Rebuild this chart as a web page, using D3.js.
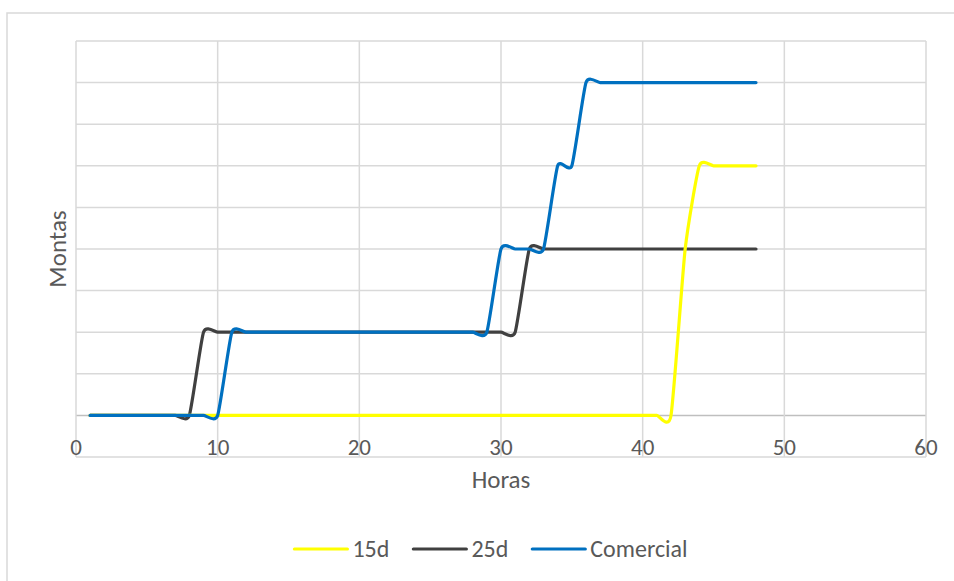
<!DOCTYPE html>
<html>
<head>
<meta charset="utf-8">
<script src="https://cdn.jsdelivr.net/npm/d3@7"></script>
<style>
  html, body { margin: 0; padding: 0; background: #fff; }
  svg { display: block; }
  text { font-family: Carlito, Calibri, Lato, sans-serif; fill: #595959; }
</style>
</head>
<body>
<div id="chart"></div>
<script>
// hours (x values)
const hours = [1, 2, 3, 4, 5, 6, 7, 8, 9, 10, 11, 12, 13, 14, 15, 16, 17, 18, 19, 20, 21, 22, 23, 24,
  25, 26, 27, 28, 29, 30, 31, 32, 33, 34, 35, 36, 37, 38, 39, 40, 41, 42, 43, 44, 45, 46, 47, 48];

// montas per hour
const d15 = [0, 0, 0, 0, 0, 0, 0, 0, 0, 0, 0, 0, 0, 0, 0, 0, 0, 0, 0, 0, 0, 0, 0, 0,
  0, 0, 0, 0, 0, 0, 0, 0, 0, 0, 0, 0, 0, 0, 0, 0, 0, 0, 4, 6, 6, 6, 6, 6];
const d25 = [0, 0, 0, 0, 0, 0, 0, 0, 2, 2, 2, 2, 2, 2, 2, 2, 2, 2, 2, 2, 2, 2, 2, 2,
  2, 2, 2, 2, 2, 2, 2, 4, 4, 4, 4, 4, 4, 4, 4, 4, 4, 4, 4, 4, 4, 4, 4, 4];
const comercial = [0, 0, 0, 0, 0, 0, 0, 0, 0, 0, 2, 2, 2, 2, 2, 2, 2, 2, 2, 2, 2, 2, 2, 2,
  2, 2, 2, 2, 2, 4, 4, 4, 4, 6, 6, 8, 8, 8, 8, 8, 8, 8, 8, 8, 8, 8, 8, 8];

const seriesNames = ['15d', '25d', 'Comercial'];
const seriesColors = ['#FFFF00', '#404040', '#0070C0'];
const seriesValues = [d15, d25, comercial];
// draw order seen in the picture: 25d under 15d, Comercial on top
const drawOrder = [1, 0, 2];

const xTicks = [0, 10, 20, 30, 40, 50, 60];
const yGrid = [-1, 0, 1, 2, 3, 4, 5, 6, 7, 8, 9];

const width = 954, height = 581;
const plot = { left: 76, right: 926, top: 41, bottom: 457 };

const svg = d3.select('#chart').append('svg')
  .attr('width', width)
  .attr('height', height);

// chart border (only top and left are inside the picture)
svg.append('rect')
  .attr('x', 7).attr('y', 13)
  .attr('width', 960).attr('height', 600)
  .attr('fill', 'none')
  .attr('stroke', '#d9d9d9')
  .attr('stroke-width', 1.5);

const x = d3.scaleLinear().domain([0, 60]).range([plot.left, plot.right]);
const y = d3.scaleLinear().domain([-1, 9]).range([plot.bottom, plot.top]);

// gridlines
svg.append('g').selectAll('line')
  .data(yGrid)
  .enter().append('line')
  .attr('x1', plot.left).attr('x2', plot.right)
  .attr('y1', d => y(d)).attr('y2', d => y(d))
  .attr('stroke', d => d === 0 ? '#bfbfbf' : '#d9d9d9')
  .attr('stroke-width', 1.5);

svg.append('g').selectAll('line')
  .data(xTicks)
  .enter().append('line')
  .attr('x1', d => x(d)).attr('x2', d => x(d))
  .attr('y1', plot.top).attr('y2', plot.bottom)
  .attr('stroke', '#d9d9d9')
  .attr('stroke-width', 1.5);

// x tick labels, sitting under the y=0 axis
svg.append('g').selectAll('text')
  .data(xTicks)
  .enter().append('text')
  .attr('x', d => x(d))
  .attr('y', y(0) + 40)
  .attr('text-anchor', 'middle')
  .style('font-size', '23px')
  .text(d => d);

// axis titles
svg.append('text')
  .attr('x', (plot.left + plot.right) / 2)
  .attr('y', 488)
  .attr('text-anchor', 'middle')
  .style('font-size', '25px')
  .text('Horas');

svg.append('text')
  .attr('transform', `translate(66, ${(plot.top + plot.bottom) / 2}) rotate(-90)`)
  .attr('text-anchor', 'middle')
  .style('font-size', '25px')
  .text('Montas');

// smoothed lines like Excel
const line = d3.line()
  .x((d, i) => x(hours[i]))
  .y(d => y(d))
  .curve(d3.curveCardinal.tension(0.45));

svg.append('g').selectAll('path')
  .data(drawOrder)
  .enter().append('path')
  .attr('d', k => line(seriesValues[k]))
  .attr('fill', 'none')
  .attr('stroke', k => seriesColors[k])
  .attr('stroke-width', 3.2)
  .attr('stroke-linecap', 'round')
  .attr('stroke-linejoin', 'round');

// legend
const legendY = 549;
const legendLine = 53;
const legendGap = 5;
const legendSpacing = 24;

const legend = svg.append('g');
const items = legend.selectAll('g')
  .data(seriesNames)
  .enter().append('g');

items.append('line')
  .attr('x1', 0).attr('x2', legendLine)
  .attr('y1', 0).attr('y2', 0)
  .attr('stroke', (d, i) => seriesColors[i])
  .attr('stroke-width', 3.2)
  .attr('stroke-linecap', 'round');

items.append('text')
  .attr('x', legendLine + legendGap)
  .attr('y', 8)
  .style('font-size', '24px')
  .text(d => d);

const widths = [];
items.each(function () {
  const w = legendLine + legendGap + d3.select(this).select('text').node().getComputedTextLength();
  widths.push(w);
});
const total = d3.sum(widths) + legendSpacing * (widths.length - 1);
let start = 491 - total / 2;
items.attr('transform', (d, i) => {
  const tx = start;
  start += widths[i] + legendSpacing;
  return `translate(${tx}, ${legendY})`;
});
</script>
</body>
</html>
